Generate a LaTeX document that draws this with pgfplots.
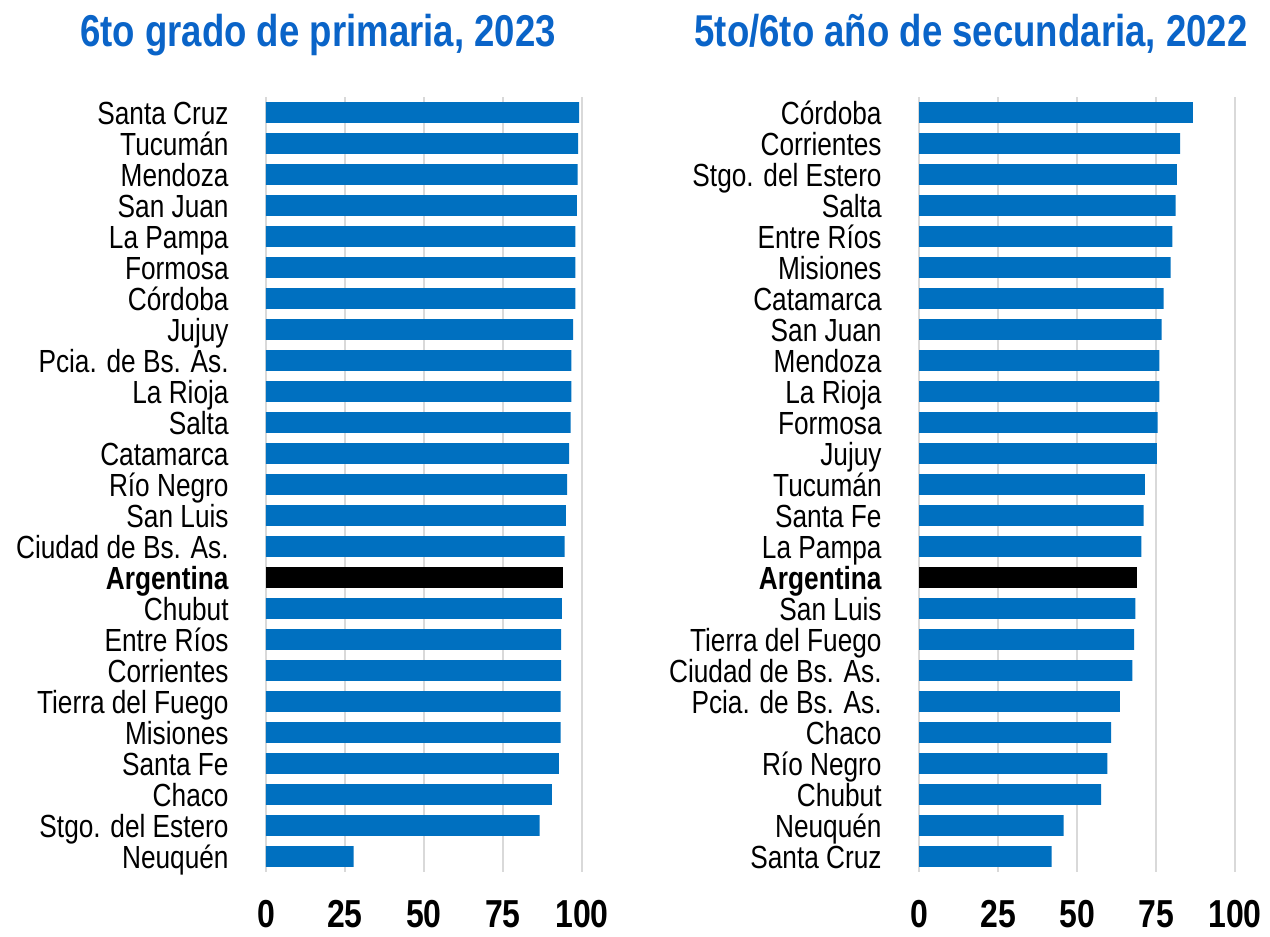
\documentclass[border=0pt]{standalone}
\usepackage{fontspec}
\usepackage{pgfplots}
\pgfplotsset{compat=1.18}
\setmainfont[FakeStretch=0.82]{Liberation Sans}
\definecolor{barblue}{HTML}{0070C0}
\definecolor{titleblue}{HTML}{0A64C8}
\definecolor{gridgray}{HTML}{D9D9D9}

\pgfplotsset{
  panel/.style={
    scale only axis, width=158pt, height=387.5pt, anchor=south west,
    xbar, bar width=0.67, bar shift=0pt,
    xmin=0, xmax=100, ymin=-0.5, ymax=24.5, y dir=reverse,
    xtick={0,25,50,75,100}, xticklabels={0,25,50,75,100},
    ytick={0,...,24},
    xmajorgrids, grid style={gridgray, line width=1pt},
    axis line style={draw=none}, major tick length=0pt,
    xticklabel style={font=\bfseries\fontsize{19.5}{19.5}\selectfont, anchor=base, inner sep=0pt, yshift=-27.5pt},
    yticklabel style={font=\fontsize{16}{16}\selectfont, anchor=base east, inner sep=0pt, xshift=-18.5pt, yshift=-5.75pt},
  }
}

\begin{document}
\begin{tikzpicture}
\useasboundingbox (0,0) rectangle (635pt,468.5pt);

\node[anchor=base, text=titleblue, font=\bfseries\fontsize{22.3}{22.3}\selectfont] at (159pt,445pt) {6to grado de primaria, 2023};
\node[anchor=base, text=titleblue, font=\bfseries\fontsize{22.3}{22.3}\selectfont] at (485.5pt,445pt) {5to/6to año de secundaria, 2022};

\begin{axis}[panel, at={(133pt,32.5pt)},
  yticklabels={Santa Cruz,Tucumán,Mendoza,San Juan,La Pampa,Formosa,Córdoba,Jujuy,Pcia. de Bs. As.,La Rioja,Salta,Catamarca,Río Negro,San Luis,Ciudad de Bs. As.,\textbf{Argentina},Chubut,Entre Ríos,Corrientes,Tierra del Fuego,Misiones,Santa Fe,Chaco,Stgo. del Estero,Neuquén}]
\addplot[fill=barblue, draw=none] coordinates {
(99.1,0) (98.8,1) (98.6,2) (98.4,3) (97.9,4) (97.9,5) (97.9,6) (97.2,7)
(96.6,8) (96.6,9) (96.4,10) (95.9,11) (95.3,12) (94.9,13) (94.5,14)
(93.6,16) (93.4,17) (93.4,18) (93.2,19) (93.2,20) (92.7,21) (90.5,22) (86.6,23) (27.7,24)};
\addplot[fill=black, draw=none] coordinates {(93.9,15)};
\end{axis}

\begin{axis}[panel, at={(459.5pt,32.5pt)},
  yticklabels={Córdoba,Corrientes,Stgo. del Estero,Salta,Entre Ríos,Misiones,Catamarca,San Juan,Mendoza,La Rioja,Formosa,Jujuy,Tucumán,Santa Fe,La Pampa,\textbf{Argentina},San Luis,Tierra del Fuego,Ciudad de Bs. As.,Pcia. de Bs. As.,Chaco,Río Negro,Chubut,Neuquén,Santa Cruz}]
\addplot[fill=barblue, draw=none] coordinates {
(86.7,0) (82.6,1) (81.6,2) (81.2,3) (80.2,4) (79.6,5) (77.4,6) (76.8,7)
(76.1,8) (76.1,9) (75.5,10) (75.3,11) (71.5,12) (71.1,13) (70.4,14)
(68.5,16) (68.1,17) (67.5,18) (63.6,19) (60.8,20) (59.6,21) (57.6,22) (45.8,23) (42.0,24)};
\addplot[fill=black, draw=none] coordinates {(69.1,15)};
\end{axis}
\end{tikzpicture}
\end{document}
